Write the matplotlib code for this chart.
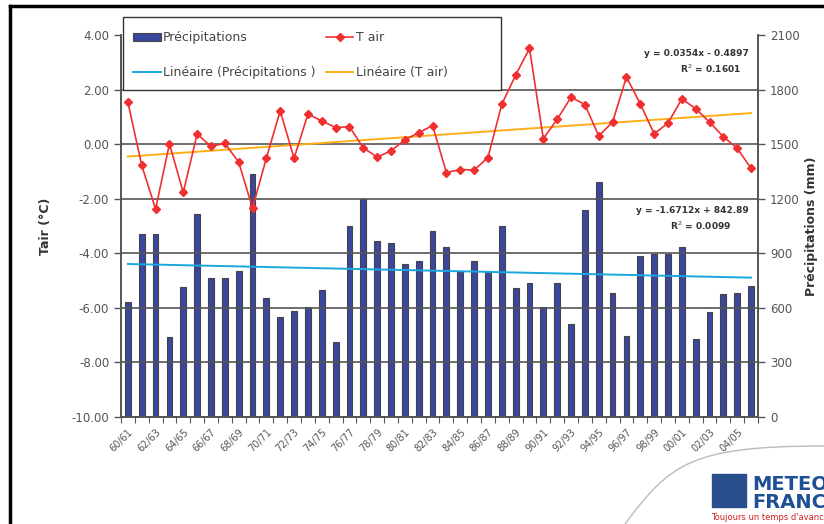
import matplotlib
matplotlib.use("Agg")
import matplotlib.pyplot as plt
import numpy as np
from matplotlib.lines import Line2D
from matplotlib.patches import PathPatch, Rectangle
from matplotlib.path import Path

# saisons 60/61 ... 05/06
seasons = ["%02d/%02d" % (y % 100, (y + 1) % 100) for y in range(1960, 2006)]

# précipitations (mm)
precip = [630, 1005, 1005, 438, 715, 1116, 763, 763, 801, 1336,
          653, 552, 581, 607, 700, 414, 1052, 1200, 966, 959,
          840, 856, 1021, 935, 797, 856, 797, 1052, 708, 737,
          607, 737, 510, 1138, 1294, 682, 447, 886, 898, 898,
          935, 429, 579, 675, 682, 722]

# température de l'air (°C)
tair = [1.54, -0.78, -2.38, 0.01, -1.77, 0.37, -0.08, 0.03, -0.66, -2.34,
        -0.51, 1.22, -0.52, 1.10, 0.85, 0.61, 0.64, -0.14, -0.47, -0.25,
        0.16, 0.42, 0.68, -1.04, -0.93, -0.95, -0.49, 1.46, 2.53, 3.51,
        0.20, 0.91, 1.72, 1.45, 0.30, 0.81, 2.46, 1.48, 0.38, 0.77,
        1.66, 1.30, 0.81, 0.27, -0.15, -0.89]

# tendances linéaires affichées (Excel)
trend_t = [0.0354, -0.4897]
r2_t = 0.1601
trend_p = [-1.6712, 842.89]
r2_p = 0.0099

t_ticks = [-10, -8, -6, -4, -2, 0, 2, 4]
p_ticks = [0, 300, 600, 900, 1200, 1500, 1800, 2100]

grey = "#555555"
x = np.arange(len(seasons))
xn = x + 1  # numérotation Excel

fig = plt.figure(figsize=(8.24, 5.24), dpi=100)
ax = fig.add_axes([0.1468, 0.2042, 0.7731, 0.729])
ax2 = ax.twinx()

# barres sur l'axe secondaire
bars = ax2.bar(x, precip, width=0.42, color="#3a479c", edgecolor="#444444", linewidth=0.8,
               label="Précipitations", zorder=2)
lp, = ax2.plot(x, np.polyval(trend_p, xn), color="#1aa7e0", lw=1.4,
               label="Linéaire (Précipitations )", zorder=3)

# température
ax2.set_zorder(1)
ax.set_zorder(2)
ax.patch.set_visible(False)
lt, = ax.plot(x, tair, color="#f03030", lw=1.2, marker="D", ms=4, mec="#f03030",
              label="T air", zorder=4)
ltt, = ax.plot(x, np.polyval(trend_t, xn), color="#ffae1a", lw=1.4,
               label="Linéaire (T air)", zorder=3)

ax.set_xlim(-0.5, len(seasons) - 0.5)
ax.set_ylim(-10, 4)
ax2.set_ylim(0, 2100)
ax.set_yticks(t_ticks)
ax.set_yticklabels(["%.2f" % v for v in t_ticks])
ax2.set_yticks(p_ticks)
ax.yaxis.grid(True, color="#555555", lw=1.2)
ax.get_ygridlines()[-1].set_visible(False)

# ticks x aux limites de catégorie
ax.set_xticks(np.arange(len(seasons) + 1) - 0.5)
ax.set_xticklabels([])
ax.set_xticks(x[::2], minor=True)
ax.set_xticklabels(seasons[::2], minor=True, rotation=45, ha="right", fontsize=7,
                   color=grey, rotation_mode="anchor")
ax.tick_params(axis="x", which="minor", length=0, pad=7)
ax.tick_params(axis="x", which="major", length=4, color=grey, direction="out")
ax.tick_params(axis="y", labelsize=8.5, colors=grey, length=5, width=1)
ax2.tick_params(axis="y", labelsize=8.5, colors=grey, length=5, width=1)
for a in (ax, ax2):
    a.spines["top"].set_visible(False)
    for s in ["left", "right", "bottom"]:
        a.spines[s].set_color(grey)
        a.spines[s].set_linewidth(1.2)

ax.set_ylabel("Tair (°C)", fontsize=9, color="#333333", labelpad=14, fontweight="semibold")
ax2.set_ylabel("Précipitations (mm)", fontsize=9, color="#333333", labelpad=4,
               fontweight="semibold")

# équations des tendances
ax.text(0.985, 0.945, "y = %.4fx - %.4f" % (trend_t[0], -trend_t[1]), transform=ax.transAxes,
        ha="right", fontsize=6.5, color="#333333", fontweight="bold")
ax.text(0.925, 0.9, "R$^2$ = %.4f" % r2_t, transform=ax.transAxes,
        ha="center", fontsize=6.5, color="#333333", fontweight="bold")
ax.text(0.985, 0.535, "y = %.4fx + %.2f" % (trend_p[0], trend_p[1]), transform=ax.transAxes,
        ha="right", fontsize=6.5, color="#333333", fontweight="bold")
ax.text(0.91, 0.49, "R$^2$ = %.4f" % r2_p, transform=ax.transAxes,
        ha="center", fontsize=6.5, color="#333333", fontweight="bold")

# légende (cadre dessiné à part)
fig.add_artist(Rectangle((123 / 824, 1 - 90 / 524), 378 / 824, 73 / 524,
                         transform=fig.transFigure, fc="white", ec="#333333", lw=1.0, zorder=5))
handles = [bars, lp, lt, ltt]
leg = fig.legend(handles, [h.get_label() for h in handles], ncol=2, loc="upper left",
                 bbox_to_anchor=(122 / 824, 1 - 20 / 524),
                 fontsize=9, frameon=False, borderpad=0.4, labelspacing=1.75,
                 handlelength=2.2, handletextpad=0.2, columnspacing=0.8)
leg.set_zorder(6)
for t in leg.get_texts():
    t.set_color("#444444")

# cadre noir de la diapositive
fig.add_artist(Line2D([10 / 824, 1], [1 - 6 / 524, 1 - 6 / 524], color="black", lw=2.5))
fig.add_artist(Line2D([10 / 824, 10 / 824], [0, 1 - 6 / 524], color="black", lw=2.5))

# courbe grise et logo
verts = [(625 / 824, 0.0), (670 / 824, 60 / 524), (690 / 824, 78 / 524), (824 / 824, 78 / 524)]
curve = Path(verts, [Path.MOVETO, Path.CURVE4, Path.CURVE4, Path.CURVE4])
fig.add_artist(PathPatch(curve, transform=fig.transFigure, fill=False, ec="#bbbbbb", lw=1.0))
fig.add_artist(Rectangle((712 / 824, 1 - 507 / 524), 34 / 824, 33 / 524,
                         transform=fig.transFigure, color="#2a4f8f"))
fig.text(752 / 824, 1 - 485 / 524, "METEO", fontsize=14, fontweight="bold",
         color="#1f4f96", va="center")
fig.text(752 / 824, 1 - 503 / 524, "FRANCE", fontsize=14, fontweight="bold",
         color="#1f4f96", va="center")
fig.text(711 / 824, 1 - 518 / 524, "Toujours un temps d'avance", fontsize=6,
         color="#d02020", va="center")

fig.savefig("out.png", dpi=100)
